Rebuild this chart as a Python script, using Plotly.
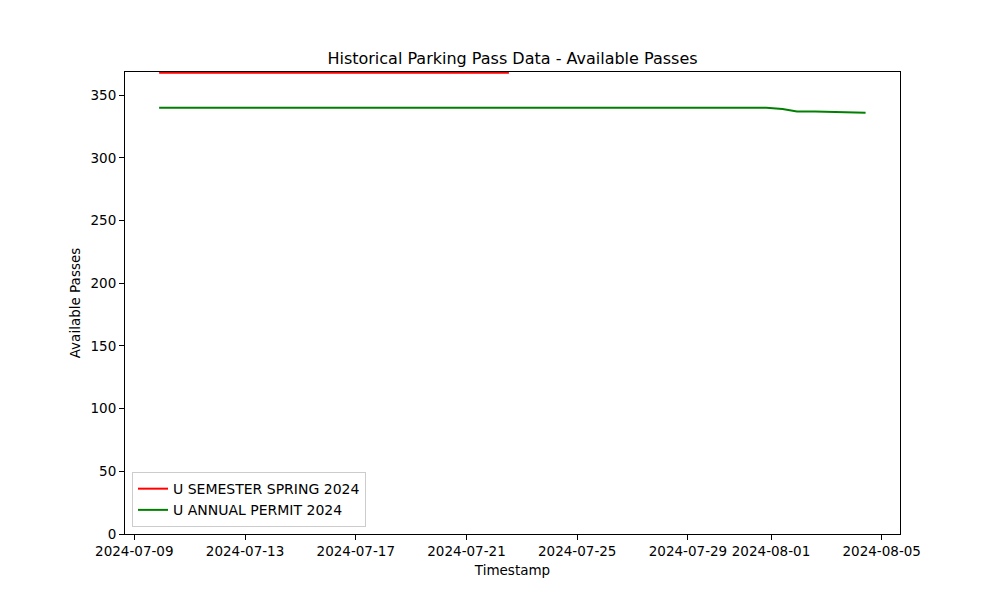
import plotly.graph_objects as go

red_name = "U SEMESTER SPRING 2024"
red_times = ["2024-07-09 21:30", "2024-07-22 12:45"]
red_values = [368, 368]

green_name = "U ANNUAL PERMIT 2024"
green_times = ["2024-07-09 21:30", "2024-07-31 20:00", "2024-08-01 10:00", "2024-08-01 22:30",
               "2024-08-02 14:00", "2024-08-03 20:00", "2024-08-04 10:00"]
green_values = [340, 340, 339, 337, 337, 336, 336]

x_tick_vals = ["2024-07-09", "2024-07-13", "2024-07-17", "2024-07-21", "2024-07-25",
               "2024-07-29", "2024-08-01", "2024-08-05"]
y_tick_vals = [0, 50, 100, 150, 200, 250, 300, 350]

font = "DejaVu Sans"

fig = go.Figure()
fig.add_trace(go.Scatter(x=red_times, y=red_values, mode="lines", name=red_name,
                         line=dict(color="red", width=2)))
fig.add_trace(go.Scatter(x=green_times, y=green_values, mode="lines", name=green_name,
                         line=dict(color="green", width=2)))

axis_common = dict(showline=True, mirror=True, linecolor="black", linewidth=1,
                   ticks="outside", ticklen=5, tickcolor="black", tickwidth=1,
                   showgrid=False, zeroline=False, automargin=False, tickangle=0,
                   tickfont=dict(family=font, size=13.5, color="black"))

fig.update_layout(
    width=1000, height=600,
    paper_bgcolor="white", plot_bgcolor="white",
    margin=dict(l=125, r=100, t=72, b=66),
    title=dict(text="Historical Parking Pass Data - Available Passes", x=0.5125, xanchor="center",
               y=1 - 58 / 600, yanchor="middle",
               font=dict(family=font, size=16, color="black")),
    xaxis=dict(range=["2024-07-08 15:55", "2024-08-05 15:50"], tickvals=x_tick_vals,
               ticktext=x_tick_vals,
               title=dict(text="Timestamp", font=dict(family=font, size=13.5, color="black"), standoff=7),
               **axis_common),
    yaxis=dict(range=[0, 368.6], tickvals=y_tick_vals,
               title=dict(text="Available Passes", font=dict(family=font, size=13.5, color="black"), standoff=6),
               **axis_common),
    legend=dict(x=0.009, y=0.015, xanchor="left", yanchor="bottom",
                bgcolor="rgba(255,255,255,0.8)", bordercolor="#cccccc", borderwidth=1,
                font=dict(family=font, size=14, color="black"), itemwidth=30,
                tracegroupgap=0),
    showlegend=True,
)

fig.write_html("out.html")
